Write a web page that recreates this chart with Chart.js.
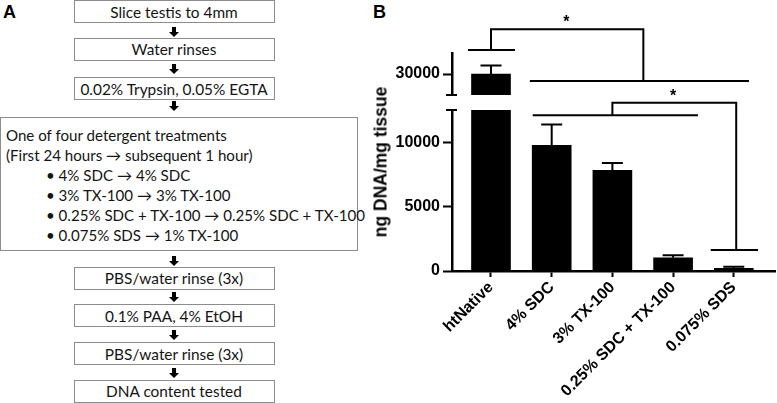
<!DOCTYPE html>
<html>
<head>
<meta charset="utf-8">
<script src="https://cdn.jsdelivr.net/npm/chart.js@4.4.0/dist/chart.umd.min.js"></script>
<style>
  html, body { margin: 0; padding: 0; background: #fff; }
  #fig { position: relative; width: 777px; height: 403px; overflow: hidden; }
  .panel { position: absolute; font: bold 18px "Liberation Sans", Arial, sans-serif; line-height: 18px; color: #000; }
  .box { position: absolute; box-sizing: border-box; border: 1.5px solid #8c8c8c; background: #fff;
         font: 15.4px Lato, "Open Sans", sans-serif; color: #141414; display: flex; align-items: center;
         justify-content: center; line-height: 16px; white-space: nowrap; }
  .big { display: block; padding: 7px 0 0 5px; line-height: 20px; font-size: 15.1px; }
  .big .b { padding-left: 40px; }
  .arrow { position: absolute; left: 169px; width: 10px; height: 10px; }
  canvas { position: absolute; left: 360px; top: 0; }
  #ytitle { position: absolute; left: 381px; top: 162px; transform: translate(-50%, -50%) rotate(-90deg);
            font: bold 17.5px "Liberation Sans", Arial, sans-serif; white-space: pre; color: #000; }
</style>
</head>
<body>
<div id="fig">
  <div class="panel" style="left:3px;top:3px;">A</div>
  <div class="panel" style="left:373px;top:3px;">B</div>
  <div id="flow"></div>
  <canvas id="lowChart" width="417" height="403"></canvas>
  <canvas id="highChart" width="417" height="403"></canvas>
  <div id="ytitle">ng DNA/mg tissue</div>
</div>
<script>
// ---- panel B data ----
const categories = ['htNative', '4% SDC', '3% TX-100', '0.25% SDC + TX-100', '0.075% SDS'];
const dnaMean = [30000, 9760, 7810, 1030, 210];
const dnaErr = [800, 1610, 580, 190, 120];
const lowTicks = [0, 5000, 10000];
const highTicks = [30000];
const lowRange = [0, 12500];
const highRange = [28000, 32000];

// significance brackets (x in category index, y in units of the axis segment they sit on)
const sigHigh = {
  lines: [
    [[-0.38, 32290], [0.395, 32290]],
    [[0.64, 29330], [4.25, 29330]],
    [[0, 32290], [0, 34260], [2.51, 34260], [2.51, 29330]]
  ],
  star: [1.24, 34520]
};
const sigLow = {
  lines: [
    [[0.687, 12095], [3.41, 12095]],
    [[3.62, 1635], [4.40, 1635]],
    [[2.0, 12095], [2.0, 13060], [4.04, 13060], [4.04, 1635]]
  ],
  star: [3.0, 13190]
};

// ---- panel A flowchart ----
const steps = [
  ['Slice testis to 4mm', 0],
  ['Water rinses', 37.5],
  ['0.02% Trypsin, 0.05% EGTA', 77],
  ['PBS/water rinse (3x)', 266.5],
  ['0.1% PAA, 4% EtOH', 304],
  ['PBS/water rinse (3x)', 342],
  ['DNA content tested', 379.5]
];
const treatLines = ['One of four detergent treatments', '(First 24 hours \u2192 subsequent 1 hour)'];
const treatBullets = [
  '4% SDC \u2192 4% SDC',
  '3% TX-100 \u2192 3% TX-100',
  '0.25% SDC + TX-100 \u2192 0.25% SDC + TX-100',
  '0.075% SDS \u2192 1% TX-100'
];
const arrowTops = [26.5, 63.5, 100.5, 256, 291.5, 330, 368];

const flow = document.getElementById('flow');
steps.forEach(([txt, top]) => {
  const d = document.createElement('div');
  d.className = 'box';
  d.style.cssText = `left:73.5px;top:${top}px;width:201px;height:23px;`;
  d.textContent = txt;
  flow.appendChild(d);
});
const big = document.createElement('div');
big.className = 'box big';
big.style.cssText = 'left:0;top:116.5px;width:358px;height:134.5px;';
treatLines.forEach(t => { const l = document.createElement('div'); l.textContent = t; big.appendChild(l); });
treatBullets.forEach(t => { const l = document.createElement('div'); l.className = 'b'; l.textContent = '\u2022\u00a0' + t; big.appendChild(l); });
flow.appendChild(big);
arrowTops.forEach(top => {
  const a = document.createElementNS('http://www.w3.org/2000/svg', 'svg');
  a.setAttribute('class', 'arrow');
  a.style.top = top + 'px';
  a.innerHTML = '<polygon points="3,0 7,0 7,5 10,5 5,10 0,5 3,5" fill="#000"/>';
  flow.appendChild(a);
});

// ---- panel B chart ----
const boldFont = () => ({ family: '"Liberation Sans", Arial, sans-serif', weight: 'bold', size: 16 });

function xScale(show) {
  return {
    type: 'linear', min: -0.6425, max: 4.679, display: show, offset: false,
    afterBuildTicks: s => { s.ticks = categories.map((c, i) => ({ value: i })); },
    afterFit: s => { if (show) s.height = 132; },
    ticks: { callback: v => categories[v], minRotation: 45, maxRotation: 45, autoSkip: false,
             color: '#000', font: boldFont(), padding: 1 },
    grid: { offset: false, drawOnChartArea: false, tickLength: 6, tickColor: '#000', tickWidth: 2 },
    border: { color: '#000', width: 2.5 }
  };
}
function yScale(range, ticks) {
  return {
    type: 'linear', min: range[0], max: range[1],
    afterBuildTicks: s => { s.ticks = ticks.map(v => ({ value: v })); },
    afterFit: s => { s.width = 92; },
    ticks: { callback: v => String(v), color: '#000', font: boldFont(), padding: 3 },
    grid: { drawOnChartArea: false, tickLength: 9, tickColor: '#000', tickWidth: 2 },
    border: { color: '#000', width: 2.5 }
  };
}

const errorBars = {
  id: 'errorBars',
  afterDatasetsDraw(chart) {
    const { ctx, scales: { x, y } } = chart;
    ctx.save();
    ctx.strokeStyle = '#000';
    ctx.lineWidth = 2;
    dnaMean.forEach((v, i) => {
      if (v < y.min || v > y.max) return;
      const px = x.getPixelForValue(i);
      const y0 = y.getPixelForValue(v), y1 = y.getPixelForValue(v + dnaErr[i]);
      ctx.beginPath();
      ctx.moveTo(px, y0); ctx.lineTo(px, y1);
      ctx.moveTo(px - 10.5, y1); ctx.lineTo(px + 10.5, y1);
      ctx.stroke();
    });
    ctx.restore();
  }
};

const extras = {
  id: 'extras',
  afterDraw(chart, args, opts) {
    const { ctx, scales: { x, y }, chartArea } = chart;
    ctx.save();
    ctx.strokeStyle = '#000';
    ctx.lineWidth = 2;
    // axis break cap
    const cy = opts.cap === 'top' ? chartArea.top : chartArea.bottom;
    ctx.beginPath();
    ctx.moveTo(chartArea.left - 6, cy); ctx.lineTo(chartArea.left + 5, cy);
    ctx.stroke();
    // significance brackets
    opts.sig.lines.forEach(pts => {
      ctx.beginPath();
      pts.forEach(([vx, vy], k) => {
        const px = x.getPixelForValue(vx), py = y.getPixelForValue(vy);
        k ? ctx.lineTo(px, py) : ctx.moveTo(px, py);
      });
      ctx.stroke();
    });
    ctx.fillStyle = '#000';
    ctx.font = 'bold 16px "Liberation Sans", Arial, sans-serif';
    ctx.textAlign = 'center';
    ctx.textBaseline = 'alphabetic';
    ctx.fillText('*', x.getPixelForValue(opts.sig.star[0]), y.getPixelForValue(opts.sig.star[1]));
    ctx.restore();
  }
};

const common = {
  responsive: false,
  animation: false,
  plugins: { legend: { display: false }, tooltip: { enabled: false } }
};

new Chart(document.getElementById('lowChart'), {
  type: 'bar',
  data: {
    datasets: [{
      data: dnaMean.map((v, i) => ({ x: i, y: Math.min(v, lowRange[1]) })),
      backgroundColor: '#000', barThickness: 39
    }]
  },
  options: {
    ...common,
    layout: { padding: { top: 110, right: 2, left: 0, bottom: 0 } },
    scales: { x: xScale(true), y: yScale(lowRange, lowTicks) },
    plugins: { ...common.plugins, extras: { cap: 'top', sig: sigLow } }
  },
  plugins: [errorBars, extras]
});

new Chart(document.getElementById('highChart'), {
  type: 'bar',
  data: {
    datasets: [{
      data: dnaMean.map((v, i) => (v > highRange[0] ? { x: i, y: [highRange[0], v] } : null)).filter(Boolean),
      backgroundColor: '#000', barThickness: 39
    }]
  },
  options: {
    ...common,
    layout: { padding: { top: 53, right: 2, left: 0, bottom: 308 } },
    scales: { x: xScale(false), y: yScale(highRange, highTicks) },
    plugins: { ...common.plugins, extras: { cap: 'bottom', sig: sigHigh } }
  },
  plugins: [errorBars, extras]
});
</script>
</body>
</html>
